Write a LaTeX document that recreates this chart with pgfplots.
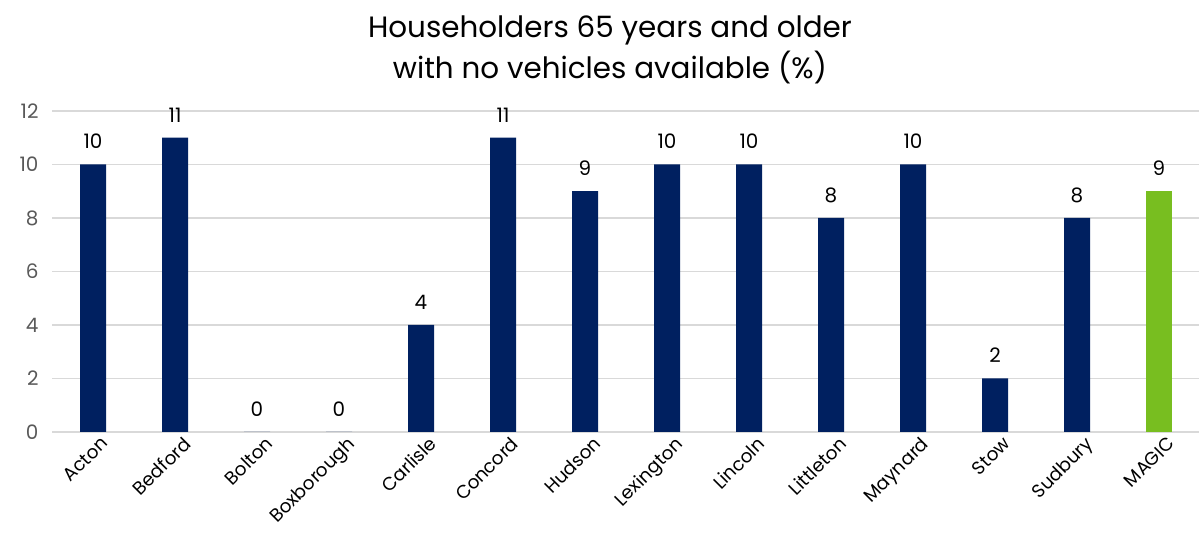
\documentclass[border=0pt]{standalone}
\usepackage{fontspec}
\setmainfont{Poppins}
\usepackage{pgfplots}
\pgfplotsset{compat=1.18}
\definecolor{navy}{HTML}{002060}
\definecolor{lgreen}{HTML}{78BE20}
\definecolor{gridc}{HTML}{D9D9D9}
\definecolor{tickc}{HTML}{595959}
\begin{document}
\begin{tikzpicture}[x=1bp,y=1bp]
\path[use as bounding box] (0,0) rectangle (1199,541);
\node[align=center, font=\fontsize{29.5}{41}\selectfont, text=black] at (610,491) {Householders 65 years and older\\with no vehicles available (\%)};
\begin{axis}[
  at={(52bp,109bp)}, anchor=south west,
  scale only axis, width=1148bp, height=321bp,
  xmin=-0.5, xmax=13.5, ymin=0, ymax=12,
  ytick={0,2,...,12},
  xtick={0,...,13},
  xticklabels={Acton,Bedford,Bolton,Boxborough,Carlisle,Concord,Hudson,Lexington,Lincoln,Littleton,Maynard,Stow,Sudbury,MAGIC},
  x tick label style={rotate=45, anchor=north east, font=\fontsize{18.5}{18.5}\selectfont, text=black, xshift=6bp, yshift=-4bp},
  y tick label style={font=\fontsize{20}{20}\selectfont, text=tickc, xshift=-10bp},
  /pgf/number format/assume math mode=true,
  ymajorgrids, grid style={gridc, line width=1.3bp},
  axis line style={draw=none},
  major tick length=0pt,
  ybar, bar width=26bp, bar shift=0pt,
  nodes near coords,
  every node near coord/.append style={font=\fontsize{20}{20}\selectfont, text=black, yshift=12bp},
  clip=false,
]
\addplot[fill=navy, draw=none] coordinates {(0,10) (1,11) (2,0) (3,0) (4,4) (5,11) (6,9) (7,10) (8,10) (9,8) (10,10) (11,2) (12,8)};
\addplot[fill=lgreen, draw=none] coordinates {(13,9)};
\end{axis}
\end{tikzpicture}
\end{document}
